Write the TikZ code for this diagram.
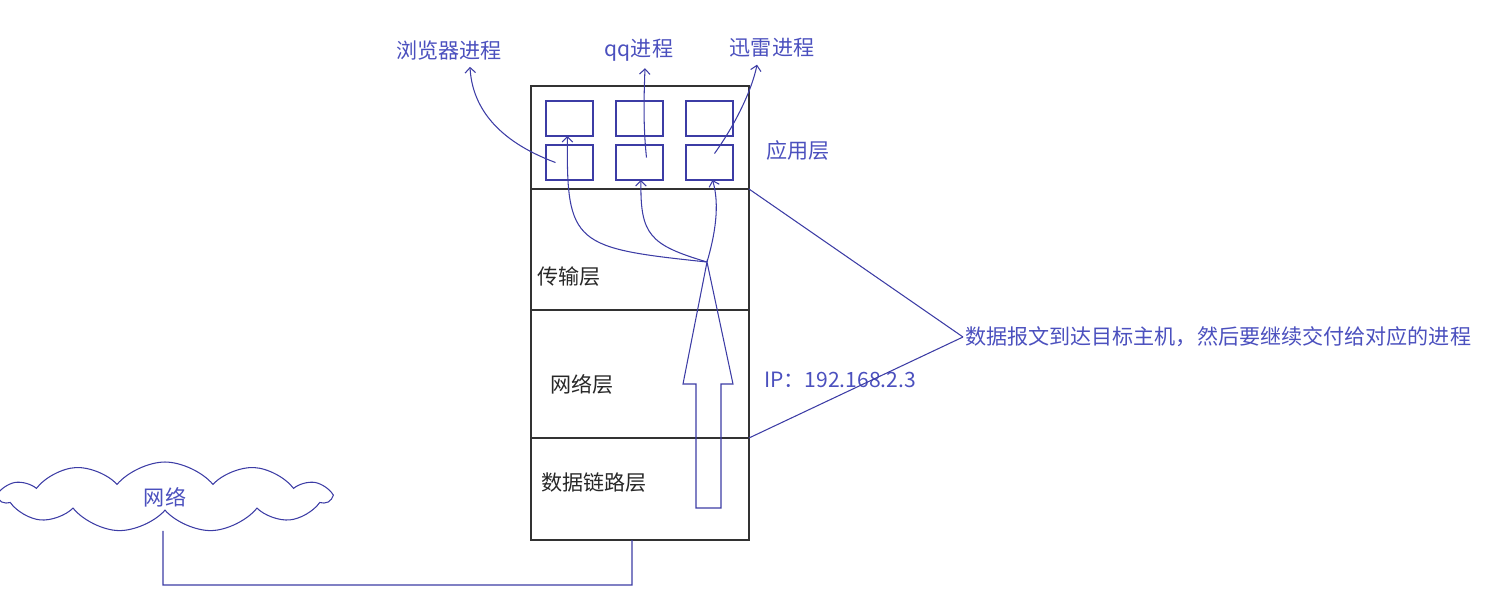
\documentclass[tikz,border=0pt]{standalone}
\usepackage{fontspec}
\setmainfont{Noto Sans CJK SC}
\usepackage{tikz}
\usepackage{xcolor}
\usetikzlibrary{arrows.meta, shapes.symbols, positioning, calc}
\definecolor{lblue} {RGB}{ 60, 60,165}
\definecolor{tblue} {RGB}{ 75, 80,190}
\definecolor{kgray} {RGB}{ 40, 40, 40}
\definecolor{bgray} {RGB}{ 50, 50, 50}
\tikzset{
  % Black layer box of the stack
  LB/.style={rectangle,draw=bgray,minimum width=4.36cm,minimum height=#1,
             inner sep=0pt,outer sep=0pt,line width=0.6pt},
  LB/.default=2cm,
  % Blue slot inside the application layer
  SB/.style={rectangle,draw=lblue,minimum width=0.94cm,minimum height=0.7cm,
             inner sep=0pt,outer sep=0pt,line width=0.6pt},
  % Blue and black texts
  BT/.style={text=tblue,font=\fontsize{12}{14}\selectfont,inner sep=1pt},
  KT/.style={text=kgray,font=\fontsize{12}{14}\selectfont,inner sep=1pt},
  % Thin blue lines, plain and with an open tip
  Ln/.style ={line width=0.6pt,color=lblue},
  Arr/.style={-{Straight Barb[length=3pt,width=6pt]},line width=0.6pt,color=lblue},
}
\begin{document}
\begin{tikzpicture}[x=0.02cm,y=-0.02cm]
        \useasboundingbox (0,0) rectangle (1489,610);
        % Protocol stack
        \node[LB=2.06cm] at (640,137.5) (app)   {};
        \node[LB=2.42cm] at (640,249.5) (trans) {};
        \node[LB=2.56cm] at (640,374)   (net)   {};
        \node[LB=2.04cm] at (640,489)   (link)  {};
        % Process slots: upper row b1--b3, lower row b4--b6
        \node[SB] at (569.5,118.5) (b1) {};
        \node[SB] at (639.5,118.5) (b2) {};
        \node[SB] at (709.5,118.5) (b3) {};
        \node[SB] at (569.5,162.5) (b4) {};
        \node[SB] at (639.5,162.5) (b5) {};
        \node[SB] at (709.5,162.5) (b6) {};
        % Layer names
        \node[BT] at (798,150) (lapp)   {应用层};
        \node[KT] at (569,277) (ltrans) {传输层};
        \node[KT] at (582,384) (lnet)   {网络层};
        \node[KT] at (594,483) (llink)  {数据链路层};
        % Process names
        \node[BT] at (449,50) (lbrowser) {浏览器进程};
        \node[BT] at (639,50) (lqq)      {qq进程};
        \node[BT] at (772,48) (lxunlei)  {迅雷进程};
        % Hollow upward arrow through the stack
        \draw[Ln] (696,508) -- (696,384) -- (683,384) -- (707,262)
              -- (733,384) -- (721,384) -- (721,508) -- cycle;
        \coordinate (tip) at (707,262);
        % Demultiplexing to the slots
        \draw[Arr] (tip) .. controls (575,248) and (566,245) .. ([xshift=-0.04cm]b1.south);
        \draw[Arr] (tip) .. controls (650,245) and (640,235) .. ([xshift=0.03cm]b4.south -| b5.south);
        \draw[Arr] (tip) .. controls (715,235) and (720,205) .. ([xshift=0.06cm]b6.south);
        % Slots to their processes
        \draw[Arr] ($(b4.center)+(-14,0)$) .. controls (495,140) and (472,105)
              .. ($(lbrowser.south)+(21,5)$);
        \draw[Arr] ($(b5.center)+(7,-5)$) .. controls (643,125) and (644,95)
              .. ($(lqq.south)+(6,5)$);
        \draw[Arr] ($(b6.center)+(5,-9)$) .. controls (735,125) and (752,90)
              .. ($(lxunlei.south)+(-15,5)$);
        % Note and address
        \node[BT,anchor=west] at (963,337) (lnote)
              {数据报文到达目标主机，然后要继续交付给对应的进程};
        \node[BT] at (840,380) (lip) {IP：192.168.2.3};
        \draw[Ln] (app.south east) -- (lnote.west);
        \draw[Ln] (net.south east) -- (lnote.west);
        % Network cloud and its wire to the host
        \node[cloud,draw=lblue,line width=0.6pt,cloud puffs=11,cloud puff arc=100,
              aspect=4.7,minimum width=6.6cm,minimum height=1.4cm,BT]
              at (165,497) (cloud) {网络};
        \coordinate (cbot) at ($(cloud.south)+(-2,20)$);
        \coordinate (wire) at (163,585);
        \draw[Ln] (cbot) -- (wire) -| ($(link.south)+(-8,0)$);
      \end{tikzpicture}
\end{document}
